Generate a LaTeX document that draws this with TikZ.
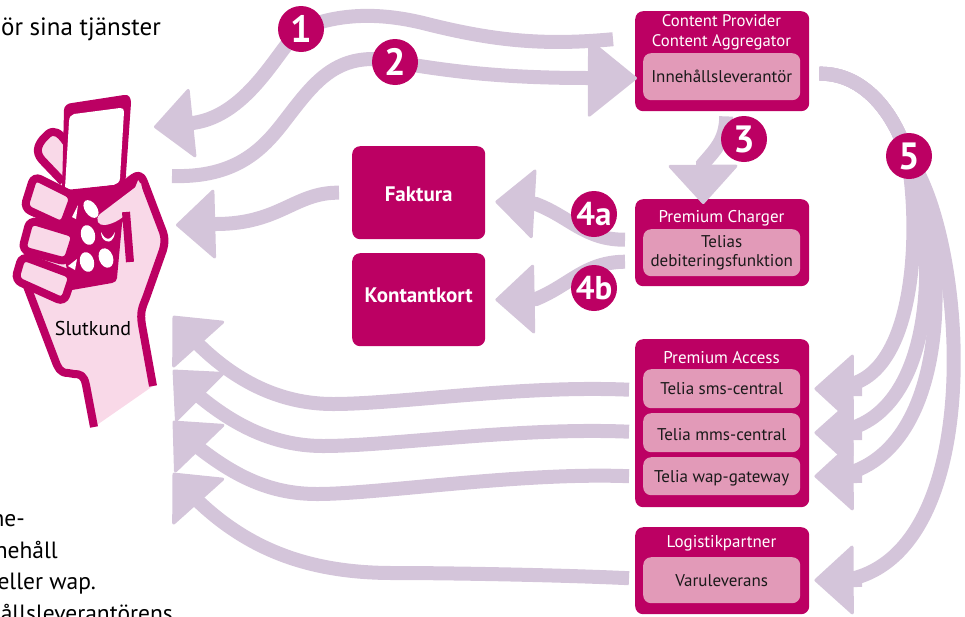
\documentclass[tikz,border=0pt]{standalone}
\usepackage{fontspec}
\setmainfont{PT Sans}
\usetikzlibrary{arrows.meta}
\definecolor{mag}{HTML}{BC0063}
\definecolor{inn}{HTML}{E29AB8}
\definecolor{flowc}{HTML}{D4C5DA}
\definecolor{skin}{HTML}{F9D9E8}
\definecolor{ink}{HTML}{1A1A1A}
\tikzset{
  x=1pt,y=-1pt,
  outerbox/.style={fill=mag,rounded corners=8pt,inner sep=0pt,anchor=north west},
  innerbox/.style={fill=inn,rounded corners=8pt,inner sep=0pt,anchor=north west,text=ink,align=center,font=\fontsize{17}{19}\selectfont},
  title/.style={text=white,inner sep=0pt,align=center,font=\fontsize{17}{20}\selectfont},
  bigbox/.style={fill=mag,rounded corners=8pt,inner sep=0pt,anchor=north west,text=white,font=\fontsize{21}{24}\selectfont\bfseries},
  badge/.style={circle,fill=mag,text=white,minimum size=46pt,inner sep=0pt,font=\fontsize{38}{38}\selectfont\bfseries},
  flow/.style={draw=flowc,line width=14pt,-{Triangle[length=40pt,width=72pt,round,line width=3pt]}},
  flowbig/.style={draw=flowc,line width=14pt,-{Triangle[length=50pt,width=80pt,round,line width=3pt]}},
  bodytext/.style={anchor=base east,inner sep=0pt,text=black,font=\fontsize{23.5}{26}\selectfont},
  handline/.style={draw=mag,line width=8pt,line join=round},
  fingerbox/.style={draw=mag,fill=skin,line width=8pt,rounded corners=7pt},
  keyhole/.style={fill=white,draw=none}
}
\begin{document}
\begin{tikzpicture}
\useasboundingbox (0,0) rectangle (965,616);
\node[bodytext,font=\fontsize{25}{26}\selectfont] (t1) at (161,35) {ör sina tjänster};
\node[bodytext] (t2) at (25,526) {ne-};
\node[bodytext] (t3) at (58,558) {nehåll};
\node[bodytext] (t4) at (96,589) {eller wap.};
\node[bodytext] (t5) at (173,621) {ållsleverantörens};
% hand
\fill[skin] (94,427) -- (85,380) -- (63,372) -- (28,293) -- (60,180) -- (140,175) -- (165,245) -- (143,310) -- (153,386) -- cycle;
\fill[skin] (54,133) -- (66,140) -- (65,185) -- (40,160) -- (38,147) -- (46,136) -- cycle;
\draw[handline] (63,182) -- (42,160) .. controls (35,152) and (38,145) .. (43,139) -- (48,134) .. controls (54,129) and (60,133) .. (66,142);
\draw[handline] (94,427) -- (86,385) .. controls (84,375) and (80,374) .. (74,374) -- (68,373) .. controls (60,373) and (58,368) .. (55,360) -- (25,281);
\draw[handline] (153,386) -- (142,325) .. controls (140,312) and (142,308) .. (146,298) -- (163,250) .. controls (165,243) and (165,238) .. (163,232) -- (144,182) .. controls (141,174) and (137,175) .. (133,178) -- (118,190);
% phone
\fill[mag] (64,110) .. controls (64,106) and (68,103) .. (72,103) -- (124,95) .. controls (129,94) and (131,98) .. (131,103) -- (125,188) -- (62,192) -- cycle;
\fill[white] (69,122) .. controls (69,117) and (71,115) .. (74,114) -- (120,108) .. controls (123,108) and (124,109) .. (124,112) -- (120,178) .. controls (120,182) and (117,184) .. (114,185) -- (72,190) -- (65,188) -- cycle;
\fill[mag] (66,190) -- (114,185) -- (128,180) -- (138,180) -- (128,205) -- (122,224) -- (117,278) .. controls (117,281) and (115,282) .. (112,283) -- (72,290) -- (60,240) -- cycle;
\fill[skin] (141,183) -- (100,214) .. controls (94,220) and (99,226) .. (105,225) .. controls (115,224) and (125,216) .. (130,211) -- (150,230) -- cycle;
\draw[draw=mag,line width=8pt] (126,212) -- (130,262);
\fill[keyhole,rotate around={35:(91,209)}] (91,209) ellipse (6pt and 10pt);
\fill[keyhole,rotate around={15:(88,235)}] (88,235) ellipse (7pt and 10pt);
\fill[keyhole] (101,232) .. controls (105,240) and (110,242) .. (115,232) .. controls (114,240) and (110,243) .. (106,241) .. controls (103,240) and (101,236) .. (101,232) -- cycle;
\fill[keyhole,rotate around={15:(87,262)}] (87,262) ellipse (7pt and 10pt);
\fill[keyhole,rotate around={20:(106,258)}] (106,258) ellipse (7pt and 10pt);
\fill[keyhole] (78,205) -- (72,217) -- (76,219) -- cycle;
\fill[keyhole] (77,259) -- (68,266) -- (75,270) -- cycle;
% fingers
\draw[fingerbox] (34,176) -- (74,196) -- (63,226) -- (24,208) -- cycle;
\draw[fingerbox] (30,220) -- (76,234) -- (67,262) -- (22,250) -- cycle;
\draw[fingerbox] (22,256) -- (73,275) -- (64,302) -- (15,280) -- cycle;
\node[inner sep=0pt,text=black,font=\fontsize{20}{22}\selectfont] (slut) at (93,328) {Slutkund};
% boxes
\node[outerbox,minimum width=174pt,minimum height=100pt] (cp) at (635,11) {};
\node[title,font=\fontsize{16.7}{20}\selectfont] (cpt) at (721.5,32) {Content Provider\\[0pt]Content Aggregator};
\node[innerbox,minimum width=157pt,minimum height=47pt] (cpi) at (643,53) {Innehållsleverantör};
\node[outerbox,minimum width=174pt,minimum height=87pt] (pc) at (635,199) {};
\node[title] (pct) at (721.5,218.5) {Premium Charger};
\node[innerbox,minimum width=157pt,minimum height=47pt] (pci) at (643,229) {Telias\\[0pt]debiteringsfunktion};
\node[outerbox,minimum width=174pt,minimum height=168pt] (pa) at (635,339) {};
\node[title] (pat) at (721.5,358) {Premium Access};
\node[innerbox,minimum width=157pt,minimum height=39pt] (sms) at (643,369) {Telia sms-central};
\node[innerbox,minimum width=157pt,minimum height=39pt,text height=15.5pt,text depth=0pt] (mms) at (643,413) {Telia mms-central};
\node[innerbox,minimum width=157pt,minimum height=38pt,text height=13.5pt,text depth=0pt] (wap) at (643,457) {Telia wap-gateway};
\node[outerbox,minimum width=174pt,minimum height=87pt] (lp) at (635,527) {};
\node[title] (lpt) at (721.5,543) {Logistikpartner};
\node[innerbox,minimum width=157pt,minimum height=46pt] (vl) at (643,557) {Varuleverans};
\node[bigbox,minimum width=133pt,minimum height=93pt,text height=17pt,text depth=0pt] (fa) at (352,146) {Faktura};
\node[bigbox,minimum width=133pt,minimum height=93pt,text height=6pt,text depth=0pt] (ko) at (352,253) {Kontantkort};
% connectors
\coordinate (handA) at (154,127);
\coordinate (handB) at (172,176);
\coordinate (handC) at (176,225);
\coordinate (hand1) at (173,316);
\coordinate (hand2) at (173,370);
\coordinate (hand3) at (173,421);
\coordinate (hand4) at (173,473);
\draw[flow] ([shift={(-22,-22)}]cp.west) .. controls (540,46) and (490,40) .. (423,23) .. controls (390,15) and (345,10) .. (301,29) .. controls (280,45) and (250,115) .. (193,123) -- (handA);
\draw[flowbig] (handB) .. controls (235,178) and (262,150) .. (283,123) .. controls (310,88) and (330,59) .. (373,59) .. controls (420,65) and (470,78) .. (587,78) -- ([shift={(2,17)}]cp.west);
\draw[flow] ([shift={(-13,0)}]fa.west) .. controls (295,192) and (280,224) .. (216,224) -- (handC);
\draw[flow] ([shift={(-10,-3)}]pc.west) .. controls (585,240) and (570,217) .. (536,204) -- ([shift={(10,9)}]fa.east);
\draw[flow] ([shift={(-10,19)}]pc.west) .. controls (585,262) and (570,285) .. (536,299) -- ([shift={(10,0)}]ko.east);
\draw[flow] ([shift={(4,5)}]cp.south) .. controls (726,140) and (715,150) .. (703,164) -- ([shift={(-19,5)}]pc.north);
\draw[flow] ([shift={(-14,1)}]sms.west) .. controls (520,385) and (400,404) .. (333,404) .. controls (285,404) and (240,385) .. (199,345) -- (hand1);
\draw[flow] ([shift={(-14,-1)}]mms.west) .. controls (520,427) and (390,446) .. (323,446) .. controls (280,446) and (240,430) .. (199,396) -- (hand2);
\draw[flow] ([shift={(-14,0)}]wap.west) .. controls (520,472) and (380,494) .. (317,494) .. controls (275,494) and (240,480) .. (199,448) -- (hand3);
\draw[flow] ([shift={(-14,-2)}]vl.west) .. controls (560,575) and (450,573) .. (393,573) .. controls (310,573) and (250,550) .. (199,502) -- (hand4);
\draw[flow] ([shift={(19,-3)}]cpi.east) .. controls (865,73) and (895,115) .. (907,155) .. controls (920,220) and (918,360) .. (855,383) -- (855,389) -- ([shift={(14,0)}]sms.east);
\draw[flow] ([shift={(19,-3)}]cpi.east) .. controls (865,73) and (895,115) .. (907,155) .. controls (937,230) and (940,395) .. (855,427) -- (855,433) -- ([shift={(14,0)}]mms.east);
\draw[flow] ([shift={(19,-3)}]cpi.east) .. controls (865,73) and (895,115) .. (907,155) .. controls (945,220) and (960,430) .. (855,471) -- (855,476) -- ([shift={(14,0)}]wap.east);
\draw[flow] ([shift={(19,-3)}]cpi.east) .. controls (865,73) and (895,115) .. (907,155) .. controls (965,230) and (990,540) .. (855,578) -- (855,580) -- ([shift={(14,0)}]vl.east);
% badges
\node[badge] (b1) at (301,29) {1};
\node[badge] (b2) at (395,62) {2};
\node[badge] (b3) at (744,139) {3};
\node[badge] (b4a) at (594,214) {\fontsize{33}{33}\selectfont 4a};
\node[badge] (b4b) at (594,288) {\fontsize{33}{33}\selectfont 4b};
\node[badge] (b5) at (909,156) {5};
\end{tikzpicture}
\end{document}
